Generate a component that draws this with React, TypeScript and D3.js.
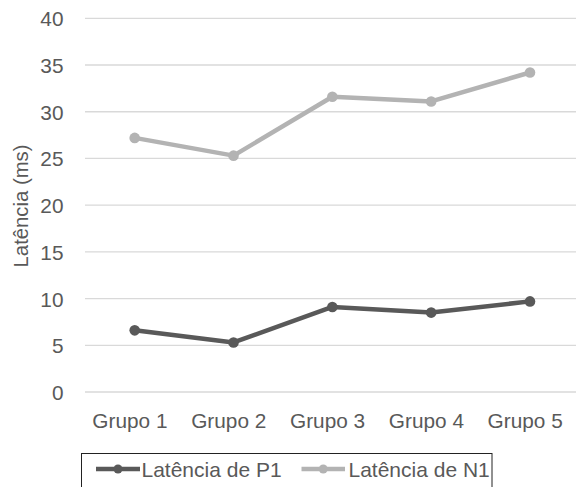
import React from "react";
import * as d3 from "d3";

const categories = ["Grupo 1", "Grupo 2", "Grupo 3", "Grupo 4", "Grupo 5"];
const p1Values = [6.6, 5.3, 9.1, 8.5, 9.7];
const n1Values = [27.2, 25.3, 31.6, 31.1, 34.2];
const yTicks = [0, 5, 10, 15, 20, 25, 30, 35, 40];
const seriesNames = ["Latência de P1", "Latência de N1"];
const seriesColors = ["#595959", "#b3b3b3"];

const W = 576;
const H = 487;
const FONT = "'Liberation Sans', Arial, Helvetica, sans-serif";
const FS = 20.8;

export default function App() {
  const x = d3.scalePoint<string>().domain(categories).range([134.7, 530]);
  const y = d3.scaleLinear().domain([0, 40]).range([392, 18.3]);
  const line = d3
    .line<number>()
    .x((_, i) => x(categories[i]) as number)
    .y((d) => y(d));
  const series = [p1Values, n1Values];

  return (
    <svg
      width={W}
      height={H}
      style={{ position: "absolute", left: 0, top: 0, background: "#fff" }}
      fontFamily={FONT}
    >
      {yTicks.map((t) => (
        <g key={t}>
          <line x1={85} x2={W} y1={y(t)} y2={y(t)} stroke="#d9d9d9" strokeWidth={1.3} />
          <text
            x={63.5}
            y={y(t) + 8}
            textAnchor="end"
            fontSize={FS}
            fill="#595959"
          >
            {t}
          </text>
        </g>
      ))}
      {categories.map((c) => (
        <text
          key={c}
          x={(x(c) as number) - 4.8}
          y={428}
          textAnchor="middle"
          fontSize={FS}
          fill="#595959"
        >
          {c}
        </text>
      ))}
      <text
        transform={`translate(27.5,206) rotate(-90)`}
        textAnchor="middle"
        fontSize={20.3}
        fill="#595959"
      >
        Latência (ms)
      </text>
      {series.map((s, si) => (
        <g key={si}>
          <path d={line(s) || ""} fill="none" stroke={seriesColors[si]} strokeWidth={4.5} strokeLinejoin="round" />
          {s.map((v, i) => (
            <circle key={i} cx={x(categories[i]) as number} cy={y(v)} r={5.3} fill={seriesColors[si]} />
          ))}
        </g>
      ))}
      <rect x={81.5} y={453.5} width={410.5} height={40} fill="none" stroke="#222" strokeWidth={1} />
      {[
        { lx1: 96, lx2: 140, tx: 141.5 },
        { lx1: 301.5, lx2: 345, tx: 348.5 },
      ].map((l, i) => (
        <g key={i}>
          <line x1={l.lx1} x2={l.lx2} y1={469} y2={469} stroke={seriesColors[i]} strokeWidth={4.5} />
          <circle cx={(l.lx1 + l.lx2) / 2} cy={469} r={4.5} fill={seriesColors[i]} />
          <text x={l.tx} y={477} fontSize={21} fill="#595959">
            {seriesNames[i]}
          </text>
        </g>
      ))}
    </svg>
  );
}
